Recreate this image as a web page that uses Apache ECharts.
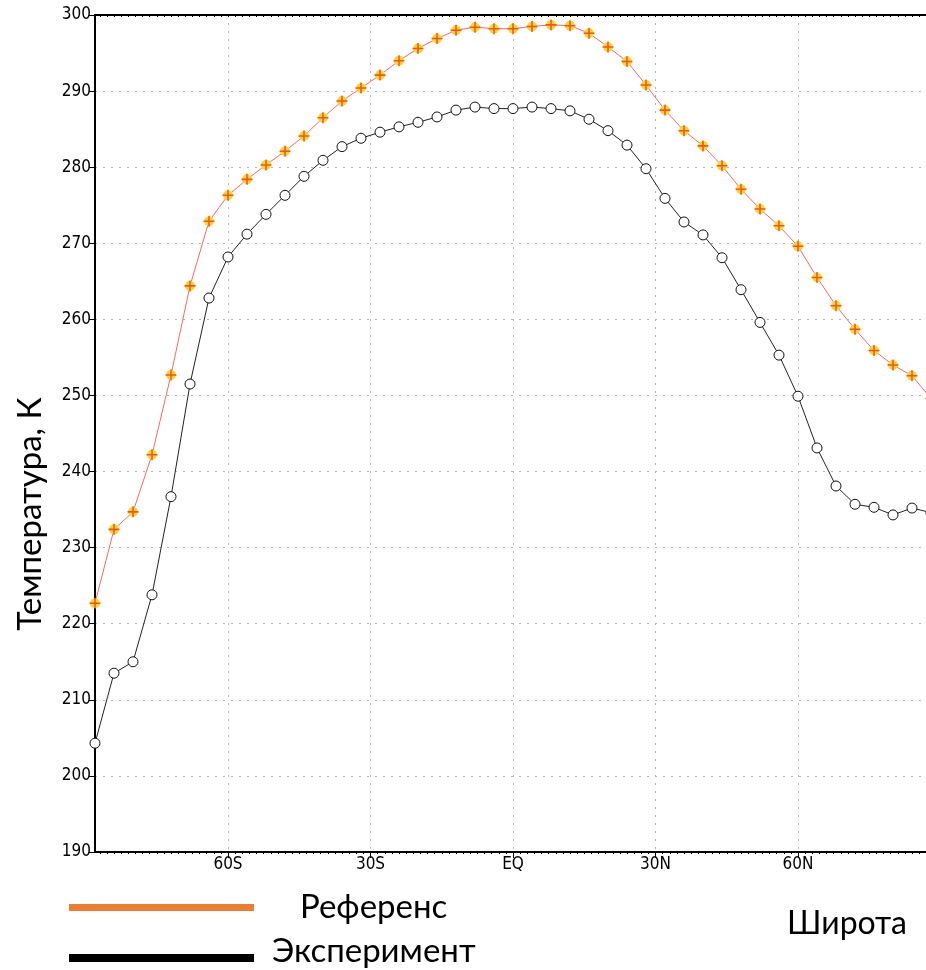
<!DOCTYPE html>
<html>
<head>
<meta charset="utf-8">
<script src="https://cdn.jsdelivr.net/npm/echarts@6/dist/echarts.min.js"></script>
<style>
html,body{margin:0;padding:0;background:#fff;}
#chart{width:926px;height:970px;}
</style>
</head>
<body>
<div id="chart"></div>
<script>
// Latitude (degrees, S negative)
const latitudes = [-88,-84,-80,-76,-72,-68,-64,-60,-56,-52,-48,-44,-40,-36,-32,-28,-24,-20,-16,-12,-8,-4,0,4,8,12,16,20,24,28,32,36,40,44,48,52,56,60,64,68,72,76,80,84,88];
// Temperature, K
const referenceTemp = [222.7,232.4,234.7,242.2,252.7,264.4,272.9,276.3,278.4,280.3,282.1,284.1,286.5,288.7,290.4,292.1,294.0,295.6,296.9,298.0,298.4,298.2,298.2,298.5,298.7,298.6,297.6,295.8,293.9,290.8,287.5,284.8,282.8,280.2,277.1,274.5,272.3,269.6,265.5,261.8,258.7,255.9,254.0,252.6,249.6];
const experimentTemp = [204.3,213.5,215.0,223.8,236.7,251.5,262.8,268.2,271.2,273.8,276.3,278.8,280.9,282.7,283.8,284.6,285.3,285.9,286.6,287.5,287.9,287.7,287.7,287.9,287.7,287.4,286.3,284.8,282.9,279.8,275.9,272.8,271.1,268.1,263.9,259.6,255.3,249.9,243.1,238.1,235.7,235.3,234.3,235.2,234.6];
// Axis ticks
const xTickValues = [-60,-30,0,30,60];
const xTickLabels = ['60S','30S','EQ','30N','60N'];
const yMin = 190, yMax = 300, yStep = 10;
const xMin = -88, xMax = 88;
// Legend / titles
const seriesNames = ['Референс','Эксперимент'];
const xTitle = 'Широта';
const yTitle = 'Температура, К';

const minorTicks = [];
for (let v = -87; v <= 87; v += 1.5) minorTicks.push(v);

const refData = latitudes.map((x,i)=>[x, referenceTemp[i]]);
const expData = latitudes.map((x,i)=>[x, experimentTemp[i]]);

const tickFont = "'Liberation Sans Narrow','DejaVu Sans Condensed','Liberation Sans',sans-serif";
const titleFont = "Lato,'Open Sans',sans-serif";

const chart = echarts.init(document.getElementById('chart'), null, {renderer:'canvas'});
const gridLine = {show:true, lineStyle:{color:'#b4b4b4', width:1, type:[2,6]}};

chart.setOption({
  animation:false,
  backgroundColor:'#fff',
  grid:{left:95, right:-5, top:15, bottom:118, containLabel:false, outerBoundsMode:'none'},
  xAxis:[
    {type:'value', min:xMin, max:xMax, position:'bottom',
     axisLine:{show:true, onZero:false, lineStyle:{color:'#000', width:2}},
     axisTick:{show:true, customValues:xTickValues, length:6, inside:false, lineStyle:{color:'#000', width:1}},
     axisLabel:{show:true, customValues:xTickValues, margin:4, color:'#000', fontSize:17, fontFamily:tickFont,
       formatter:(v)=>{const k=xTickValues.indexOf(v); return k>=0?xTickLabels[k]:'';}},
     splitLine:gridLine},
    {type:'value', min:xMin, max:xMax, position:'bottom',
     axisLine:{show:false, onZero:false},
     axisTick:{show:true, customValues:minorTicks, length:2, inside:false, lineStyle:{color:'#000', width:1}},
     axisLabel:{show:false}, splitLine:{show:false}},
    {type:'value', min:xMin, max:xMax, position:'top',
     axisLine:{show:true, onZero:false, lineStyle:{color:'#000', width:2}},
     axisTick:{show:true, customValues:minorTicks, length:2, inside:true, lineStyle:{color:'#000', width:1}},
     axisLabel:{show:false}, splitLine:{show:false}}
  ],
  yAxis:{type:'value', min:yMin, max:yMax, interval:yStep,
     axisLine:{show:true, onZero:false, lineStyle:{color:'#000', width:2}},
     axisTick:{show:true, length:6, inside:false, lineStyle:{color:'#000', width:1}},
     axisLabel:{show:true, margin:4, color:'#000', fontSize:17, fontFamily:tickFont},
     splitLine:gridLine},
  series:[
    {name:seriesNames[0], type:'line', data:refData, z:3,
     lineStyle:{color:'#ff6666', width:1},
     symbol:'circle', symbolSize:10, itemStyle:{color:'#f0dc28'}},
    {name:seriesNames[0]+'-marker', type:'scatter', data:refData, z:4, silent:true,
     symbol:'path://M4.3,0H5.7V4.3H10V5.7H5.7V10H4.3V5.7H0V4.3H4.3Z', symbolSize:11,
     itemStyle:{color:'#ff2a2a'}},
    {name:seriesNames[1], type:'line', data:expData, z:2,
     lineStyle:{color:'#222', width:1},
     symbol:'circle', symbolSize:10, itemStyle:{color:'#fff', borderColor:'#111', borderWidth:1}}
  ],
  graphic:[
    {type:'text', x:30, y:514, rotation:Math.PI/2,
     style:{text:yTitle, font:"33px "+titleFont, fill:'#000', align:'center', verticalAlign:'middle'}},
    {type:'text', x:847, y:924,
     style:{text:xTitle, font:"32px "+titleFont, fill:'#000', align:'center', verticalAlign:'middle'}},
    {type:'rect', shape:{x:69, y:904, width:185, height:7}, style:{fill:'#ED7D31'}},
    {type:'rect', shape:{x:69, y:954, width:185, height:8}, style:{fill:'#000'}},
    {type:'text', x:300, y:907,
     style:{text:seriesNames[0], font:"33px "+titleFont, fill:'#000', align:'left', verticalAlign:'middle'}},
    {type:'text', x:272, y:951,
     style:{text:seriesNames[1], font:"33px "+titleFont, fill:'#000', align:'left', verticalAlign:'middle'}}
  ]
});
</script>
</body>
</html>
